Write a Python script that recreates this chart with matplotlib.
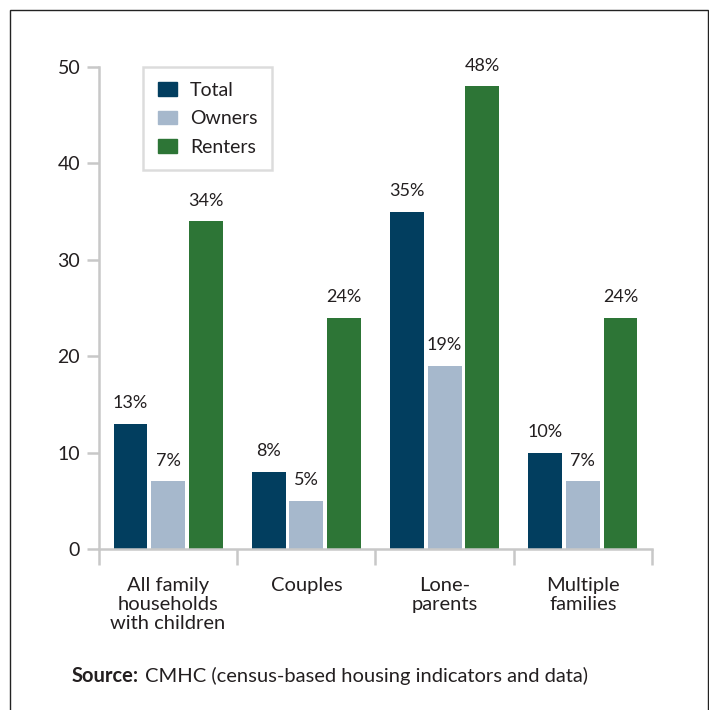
import numpy as np
import matplotlib.pyplot as plt
from matplotlib.patches import Rectangle, Patch

categories = ["All family\nhouseholds\nwith children", "Couples", "Lone-\nparents", "Multiple\nfamilies"]
series_names = ["Total", "Owners", "Renters"]
total = [13, 8, 35, 10]
owners = [7, 5, 19, 7]
renters = [34, 24, 48, 24]
yticks = [0, 10, 20, 30, 40, 50]

colors = ["#023e5f", "#a6b8cc", "#2d7536"]
AXIS_GREY = "#c8c8c8"
TEXT = "#231f20"

plt.rcParams["font.family"] = ["Lato", "DejaVu Sans"]

fig = plt.figure(figsize=(7.09, 7.10), dpi=100)
ax = fig.add_axes([0.1396, 0.2268, 0.78, 0.6789])

x = np.arange(len(categories))
width = 0.245
offset = 0.272
for i, (vals, name) in enumerate(zip([total, owners, renters], series_names)):
    pos = x + (i - 1) * offset
    ax.bar(pos, vals, width=width, color=colors[i], label=name)
    for px, v in zip(pos, vals):
        ax.annotate(f"{v}%", (px, v), xytext=(0, 9), textcoords="offset points",
                    ha="center", va="bottom", fontsize=13, color=TEXT)

ax.set_xlim(-0.5, len(categories) - 0.5)
ax.set_ylim(0, 50)
ax.set_yticks(yticks)
ax.set_yticklabels([str(t) for t in yticks], fontsize=14, color=TEXT)
ax.set_xticks(x)
ax.set_xticklabels(categories, fontsize=14.5, color=TEXT, linespacing=1.15)
ax.set_xticks(np.arange(len(categories) + 1) - 0.5, minor=True)

for s in ["top", "right"]:
    ax.spines[s].set_visible(False)
for s in ["left", "bottom"]:
    ax.spines[s].set_color(AXIS_GREY)
    ax.spines[s].set_linewidth(1.8)

ax.tick_params(axis="y", length=8.5, width=1.8, color=AXIS_GREY, pad=5)
ax.tick_params(axis="x", which="major", length=0, pad=20)
ax.tick_params(axis="x", which="minor", length=11.5, width=1.8, color=AXIS_GREY)

handles = [Patch(color=c, label=n) for c, n in zip(colors, series_names)]
leg = ax.legend(handles=handles, loc="upper left", bbox_to_anchor=(0.08, 1.0),
                borderaxespad=0, fontsize=14, frameon=True, fancybox=False,
                handlelength=1.0, handleheight=0.7, handletextpad=0.65,
                labelspacing=0.6, borderpad=0.75, labelcolor=TEXT)
leg.get_frame().set_edgecolor("#d4d4d4")
leg.get_frame().set_linewidth(1.8)

src = fig.text(72 / 709, 0.048, "Source:", fontsize=14.5, fontweight="bold",
               color=TEXT, va="center")
fig.canvas.draw()
bb = src.get_window_extent()
fig.text((bb.x1 + 6) / fig.bbox.width, 0.048,
         "CMHC (census-based housing indicators and data)",
         fontsize=14.5, color=TEXT, va="center")

frame = Rectangle((10 / 709, -0.05), 698 / 709, 1.05 - 10 / 710, transform=fig.transFigure,
                  fill=False, edgecolor="#222222", linewidth=1.0)
fig.patches.append(frame)

fig.savefig("out.png", dpi=100, facecolor="white")
